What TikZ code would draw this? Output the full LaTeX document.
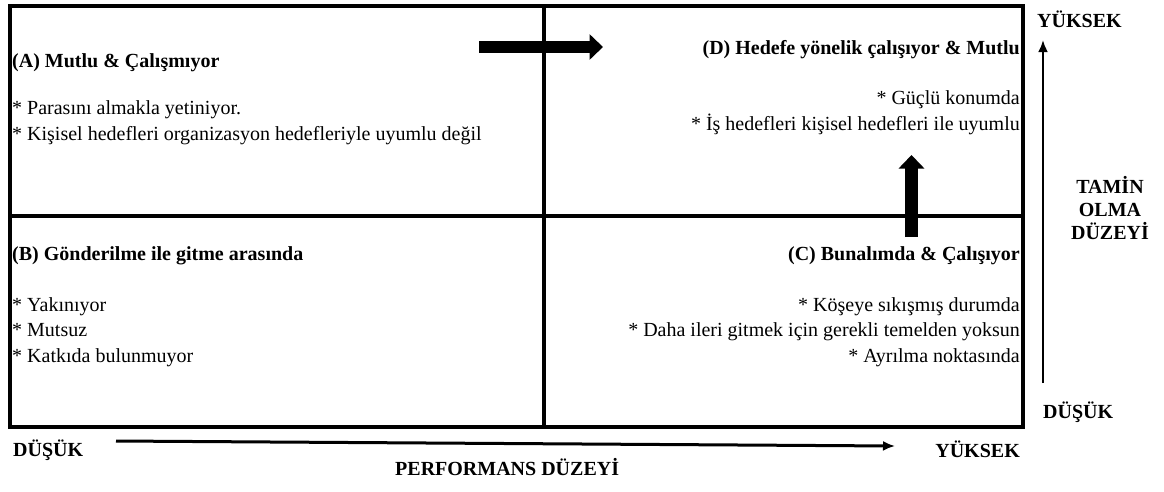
\documentclass[tikz,border=0pt]{standalone}
\usepackage{fontspec}
\setmainfont{Liberation Serif}
\usetikzlibrary{arrows.meta}
\begin{document}
\begin{tikzpicture}[x=1pt,y=-1pt,
  txt/.style={inner sep=0pt, font=\fontsize{20}{25}\selectfont},
  hd/.style={inner sep=0pt, font=\fontsize{20}{25}\selectfont\bfseries},
  frame/.style={line width=4pt},
  bigarrow/.style={line width=12.5pt, -{Triangle[length=13.5pt,width=25pt]}},
  axis/.style={line width=2.6pt, -{Latex[length=12pt,width=10pt]}}]
\useasboundingbox (0,0) rectangle (1164,491);

% four-field frame
\coordinate (tl) at (10,6);
\coordinate (br) at (1023,427);
\coordinate (mt) at (544,6);
\coordinate (mb) at (544,427);
\coordinate (ml) at (10,216);
\coordinate (mr) at (1023,216);
\draw[frame] (tl) rectangle (br);
\draw[frame] (mt) -- (mb);
\draw[frame] (ml) -- (mr);

% (A) upper left
\node[hd, anchor=base west] (atitle) at (12,67) {(A) Mutlu \& Çalışmıyor};
\node[txt, anchor=base west] (a1) at (12,114) {* Parasını almakla yetiniyor.};
\node[txt, anchor=base west] (a2) at (12,140) {* Kişisel hedefleri organizasyon hedefleriyle uyumlu değil};

% (D) upper right
\node[hd, anchor=base east] (dtitle) at (1020,54) {(D) Hedefe yönelik çalışıyor \& Mutlu};
\node[txt, anchor=base east] (d1) at (1020,104) {* Güçlü konumda};
\node[txt, anchor=base east] (d2) at (1020,130) {* İş hedefleri kişisel hedefleri ile uyumlu};

% (B) lower left
\node[hd, anchor=base west] (btitle) at (12,260) {(B) Gönderilme ile gitme arasında};
\node[txt, anchor=base west] (b1) at (12,311) {* Yakınıyor};
\node[txt, anchor=base west] (b2) at (12,336.5) {* Mutsuz};
\node[txt, anchor=base west] (b3) at (12,362) {* Katkıda bulunmuyor};

% (C) lower right
\node[hd, anchor=base east] (ctitle) at (1020,260) {(C) Bunalımda \& Çalışıyor};
\node[txt, anchor=base east] (c1) at (1020,311) {* Köşeye sıkışmış durumda};
\node[txt, anchor=base east] (c2) at (1020,336.5) {* Daha ileri gitmek için gerekli temelden yoksun};
\node[txt, anchor=base east] (c3) at (1020,362) {* Ayrılma noktasında};

% transitions between fields
\coordinate (ra0) at (479,47);
\coordinate (ra1) at (603,47);
\draw[bigarrow] (ra0) -- (ra1);
\coordinate (ua0) at (911.5,237);
\coordinate (ua1) at (911.5,155);
\draw[bigarrow] (ua0) -- (ua1);

% vertical axis
\coordinate (v0) at (1043,383);
\coordinate (v1) at (1043,40);
\draw[axis] (v0) -- (v1);
\node[hd, anchor=base west] (vhigh) at (1037,27) {YÜKSEK};
\node[hd, anchor=base] (vl1) at (1110,193) {TAMİN};
\node[hd, anchor=base] (vl2) at (1110,216) {OLMA};
\node[hd, anchor=base] (vl3) at (1110,239) {DÜZEYİ};
\node[hd, anchor=base west] (vlow) at (1043,418) {DÜŞÜK};

% horizontal axis
\coordinate (h0) at (116,441);
\coordinate (h1) at (895,446);
\draw[axis, line width=3pt] (h0) -- (h1);
\node[hd, anchor=base west] (hlow) at (13,456) {DÜŞÜK};
\node[hd, anchor=base east] (hhigh) at (1020,457) {YÜKSEK};
\node[hd, anchor=base west] (hlabel) at (395,475) {PERFORMANS DÜZEYİ};
\end{tikzpicture}
\end{document}
